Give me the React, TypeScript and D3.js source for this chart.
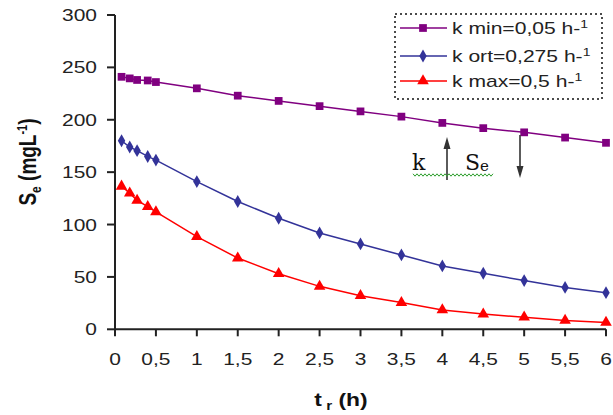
import React from 'react';
import * as d3 from 'd3';

// ---- data ----
const tHours = [0.08, 0.18, 0.27, 0.4, 0.5, 1, 1.5, 2, 2.5, 3, 3.5, 4, 4.5, 5, 5.5, 6];
const seKmin = [241, 239.5, 238, 237.5, 236, 230, 223, 218, 213, 208, 203, 197, 192, 188, 183, 178];
const seKort = [180, 174, 170.5, 165, 161.5, 141, 122, 106, 92, 81.5, 71, 60.5, 53.5, 46.5, 40, 35];
const seKmax = [136.5, 130, 123, 117, 112, 88.5, 68, 53, 41, 32, 25.5, 18.5, 14.5, 11.5, 8.5, 6.5];
const seriesNames = ['k min=0,05 h-', 'k ort=0,275 h-', 'k max=0,5 h-'];
const xTicks = [0, 0.5, 1, 1.5, 2, 2.5, 3, 3.5, 4, 4.5, 5, 5.5, 6];
const xTickLabels = ['0', '0,5', '1', '1,5', '2', '2,5', '3', '3,5', '4', '4,5', '5', '5,5', '6'];
const yTicks = [0, 50, 100, 150, 200, 250, 300];

const W = 613;
const H = 415;
const SX = 1.27; // horizontal stretch of the original picture's text

const x = d3.scaleLinear().domain([0, 6]).range([115, 606]);
const y = d3.scaleLinear().domain([0, 300]).range([329.3, 15]);

const series = [
  { name: seriesNames[0], values: seKmin, color: '#800080', shape: 'square' },
  { name: seriesNames[1], values: seKort, color: '#333399', shape: 'diamond' },
  { name: seriesNames[2], values: seKmax, color: '#FF0000', shape: 'triangle' },
];

const symbolFor = (shape: string) =>
  shape === 'square'
    ? d3.symbol().type(d3.symbolSquare).size(60)()
    : shape === 'diamond'
    ? d3.symbol().type(d3.symbolDiamond).size(48)()
    : d3.symbol().type(d3.symbolTriangle).size(58)();

const font = 'Arial, "Liberation Sans", sans-serif';
const serif = '"DejaVu Serif", "Liberation Serif", serif';

function SText({ tx, ty, anchor = 'start', size = 16, weight = 'normal', children, fill = '#222' }: any) {
  return (
    <text
      transform={`translate(${tx},${ty}) scale(${SX},1)`}
      textAnchor={anchor}
      fontFamily={font}
      fontSize={size}
      fontWeight={weight}
      fill={fill}
    >
      {children}
    </text>
  );
}

function Arrow({ ax, yFrom, yTo }: { ax: number; yFrom: number; yTo: number }) {
  const dir = yTo < yFrom ? -1 : 1;
  const headLen = 12;
  const base = yTo - dir * headLen;
  return (
    <g>
      <line x1={ax} x2={ax} y1={yFrom} y2={base} stroke="#333" strokeWidth={1.6} />
      <path d={`M${ax - 3.5},${base} L${ax},${yTo} L${ax + 3.5},${base} Z`} fill="#333" />
    </g>
  );
}

export default function App() {
  const line = d3
    .line<number>()
    .x((_, i) => x(tHours[i]))
    .y((d) => y(d));

  // wavy spell-check underline
  const waveX0 = 413;
  const waveX1 = 494;
  const wavePts: [number, number][] = d3
    .range(waveX0, waveX1 + 0.1, 2)
    .map((px, i) => [px, 175 + (i % 2 === 0 ? -1.2 : 1.2)]);
  const wave = d3.line()(wavePts) as string;

  const axisColor = '#222';

  return (
    <svg
      width={W}
      height={H}
      style={{ position: 'absolute', left: 0, top: 0, background: '#fff' }}
    >
      {/* axes */}
      <line x1={x(0)} x2={x(0)} y1={y(300)} y2={y(0)} stroke={axisColor} strokeWidth={2} />
      <line x1={x(0)} x2={x(6)} y1={y(0)} y2={y(0)} stroke={axisColor} strokeWidth={2} />
      {yTicks.map((t) => (
        <g key={'y' + t}>
          <line x1={x(0) - 8} x2={x(0)} y1={y(t)} y2={y(t)} stroke={axisColor} strokeWidth={2} />
          <SText tx={97} ty={y(t) + 6} anchor="end" size={16.5}>
            {String(t)}
          </SText>
        </g>
      ))}
      {xTicks.map((t, i) => (
        <g key={'x' + t}>
          <line x1={x(t)} x2={x(t)} y1={y(0)} y2={y(0) + 7} stroke={axisColor} strokeWidth={2} />
          <SText tx={x(t)} ty={364.5} anchor="middle" size={16.5}>
            {xTickLabels[i]}
          </SText>
        </g>
      ))}

      {/* axis titles */}
      <text
        transform={`translate(36,162) scale(${SX},1) rotate(-90)`}
        textAnchor="middle"
        fontFamily={font}
        fontSize={19}
        fontWeight="bold"
        fill="#111"
      >
        S<tspan fontSize={12} dy={4}>e</tspan>
        <tspan dy={-4}> (mgL</tspan>
        <tspan fontSize={11} dy={-7}>-1</tspan>
        <tspan dy={7}>)</tspan>
      </text>
      <text
        transform={`translate(341,406) scale(${SX},1)`}
        textAnchor="middle"
        fontFamily={font}
        fontSize={18}
        fontWeight="bold"
        fill="#111"
      >
        t<tspan fontSize={12} dy={4}> r</tspan>
        <tspan dy={-4}>  (h)</tspan>
      </text>

      {/* series */}
      {series.map((s) => (
        <g key={s.name}>
          <path d={line(s.values) as string} fill="none" stroke={s.color} strokeWidth={1.5} />
          {s.values.map((v, i) => (
            <path key={i} d={symbolFor(s.shape) as string} transform={`translate(${x(tHours[i])},${y(v)})`} fill={s.color} />
          ))}
        </g>
      ))}

      {/* legend */}
      <rect x={395} y={14} width={207} height={85} fill="#fff" stroke="#111" strokeWidth={1.5} strokeDasharray="2,3" />
      {series.map((s, i) => {
        const cy = [28, 56, 81][i];
        return (
          <g key={'lg' + s.name}>
            <line x1={400} x2={447} y1={cy} y2={cy} stroke={s.color} strokeWidth={1.5} />
            <path d={symbolFor(s.shape) as string} transform={`translate(423,${cy})`} fill={s.color} />
            <SText tx={452} ty={cy + 6} size={16.6}>
              {s.name}
              <tspan fontSize={11} dy={-6}>1</tspan>
            </SText>
          </g>
        );
      })}

      {/* annotation: k ↑  Se ↓ */}
      <text x={412} y={170} fontFamily={serif} fontSize={22} fill="#111">
        k
      </text>
      <Arrow ax={447} yFrom={180} yTo={137} />
      <text x={465} y={170} fontFamily={serif} fontSize={22} fill="#111">
        S<tspan fontSize={15} dy={1}>e</tspan>
      </text>
      <Arrow ax={520} yFrom={135} yTo={178} />
      <path d={wave} fill="none" stroke="#2a9d2a" strokeWidth={1} />
    </svg>
  );
}
